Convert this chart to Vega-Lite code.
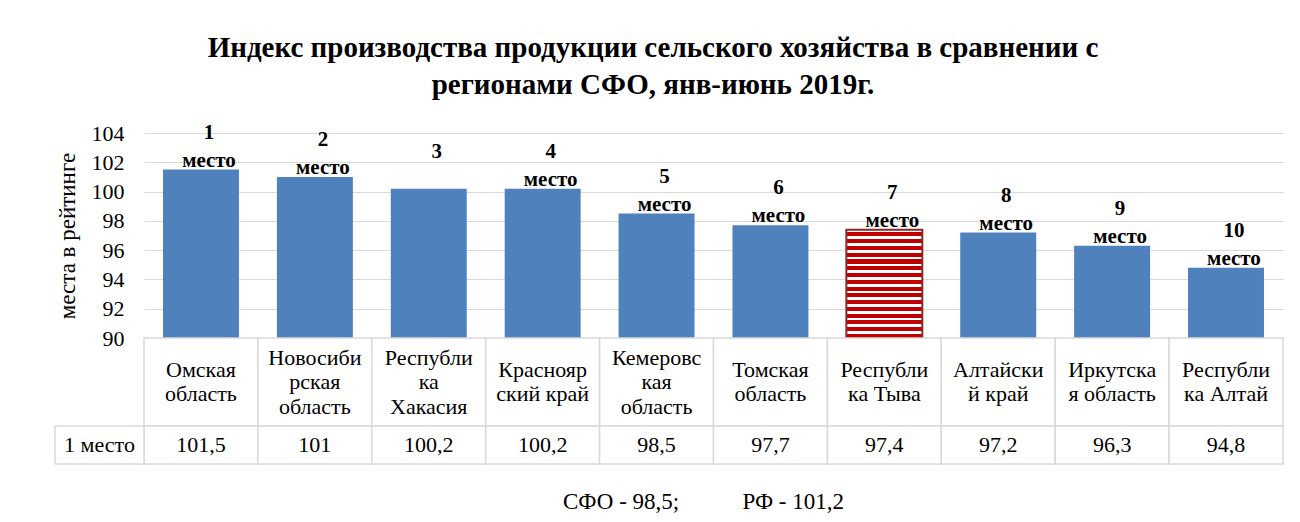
{
  "$schema": "https://vega.github.io/schema/vega-lite/v6.json",
  "background": "white",
  "padding": {"left": 54, "top": 33, "right": 17, "bottom": 6},
  "config": {
    "font": "Liberation Serif",
    "view": {"stroke": null},
    "locale": {"number": {"decimal": ",", "thousands": " ", "grouping": [3], "currency": ["", " ₽"]}}
  },
  "title": {
    "text": ["Индекс производства продукции сельского хозяйства в сравнении с", "регионами СФО, янв-июнь 2019г."],
    "font": "Liberation Serif",
    "fontSize": 29,
    "fontWeight": "bold",
    "color": "black",
    "lineHeight": 37,
    "anchor": "middle",
    "offset": 22,
    "dx": -16
  },
  "datasets": {
    "regions": [
      {"region": "Омская область", "label": "Омская\nобласть", "value": 101.5, "place": "1\nместо"},
      {"region": "Новосибирская область", "label": "Новосиби\nрская\nобласть", "value": 101, "place": "2\nместо"},
      {"region": "Республика Хакасия", "label": "Республи\nка\nХакасия", "value": 100.2, "place": "3\n "},
      {"region": "Красноярский край", "label": "Краснояр\nский край", "value": 100.2, "place": "4\nместо"},
      {"region": "Кемеровская область", "label": "Кемеровс\nкая\nобласть", "value": 98.5, "place": "5\nместо"},
      {"region": "Томская область", "label": "Томская\nобласть", "value": 97.7, "place": "6\nместо"},
      {"region": "Республика Тыва", "label": "Республи\nка Тыва", "value": 97.4, "place": "7\nместо"},
      {"region": "Алтайский край", "label": "Алтайски\nй край", "value": 97.2, "place": "8\nместо"},
      {"region": "Иркутская область", "label": "Иркутска\nя область", "value": 96.3, "place": "9\nместо"},
      {"region": "Республика Алтай", "label": "Республи\nка Алтай", "value": 94.8, "place": "10\nместо"}
    ]
  },
  "bounds": "flush",
  "spacing": 0,
  "vconcat": [
    {
      "width": 1139,
      "height": 205,
      "data": {"name": "regions"},
      "encoding": {
        "x": {"field": "region", "type": "nominal", "sort": null, "axis": null, "scale": {"paddingInner": 0.333, "paddingOuter": 0.167}},
        "y": {
          "field": "value",
          "type": "quantitative",
          "stack": null,
          "scale": {"domain": [90, 104], "nice": false, "zero": false},
          "axis": {
            "values": [90, 92, 94, 96, 98, 100, 102, 104],
            "title": "места в рейтинге",
            "titleFont": "Liberation Serif",
            "titleFontSize": 23,
            "titleFontWeight": "normal",
            "titleColor": "black",
            "titlePadding": 12,
            "labelFont": "Liberation Serif",
            "labelFontSize": 22,
            "labelColor": "black",
            "labelPadding": 20,
            "ticks": false,
            "domain": false,
            "grid": true,
            "gridColor": "#d9d9d9",
            "gridWidth": 1
          }
        }
      },
      "layer": [
        {
          "mark": {"type": "bar"},
          "encoding": {
            "y2": {"datum": 90},
            "fill": {
              "condition": {
                "test": "datum.region === 'Республика Тыва'",
                "value": {
                  "gradient": "linear", "x1": 0, "y1": 0, "x2": 0, "y2": 1,
                  "stops": [
                    {"offset": 0, "color": "#ffffff"}, {"offset": 0.025, "color": "#ffffff"}, {"offset": 0.025, "color": "#C00000"}, {"offset": 0.0625, "color": "#C00000"},
                    {"offset": 0.0625, "color": "#ffffff"}, {"offset": 0.0875, "color": "#ffffff"}, {"offset": 0.0875, "color": "#C00000"}, {"offset": 0.125, "color": "#C00000"},
                    {"offset": 0.125, "color": "#ffffff"}, {"offset": 0.15, "color": "#ffffff"}, {"offset": 0.15, "color": "#C00000"}, {"offset": 0.1875, "color": "#C00000"},
                    {"offset": 0.1875, "color": "#ffffff"}, {"offset": 0.2125, "color": "#ffffff"}, {"offset": 0.2125, "color": "#C00000"}, {"offset": 0.25, "color": "#C00000"},
                    {"offset": 0.25, "color": "#ffffff"}, {"offset": 0.275, "color": "#ffffff"}, {"offset": 0.275, "color": "#C00000"}, {"offset": 0.3125, "color": "#C00000"},
                    {"offset": 0.3125, "color": "#ffffff"}, {"offset": 0.3375, "color": "#ffffff"}, {"offset": 0.3375, "color": "#C00000"}, {"offset": 0.375, "color": "#C00000"},
                    {"offset": 0.375, "color": "#ffffff"}, {"offset": 0.4, "color": "#ffffff"}, {"offset": 0.4, "color": "#C00000"}, {"offset": 0.4375, "color": "#C00000"},
                    {"offset": 0.4375, "color": "#ffffff"}, {"offset": 0.4625, "color": "#ffffff"}, {"offset": 0.4625, "color": "#C00000"}, {"offset": 0.5, "color": "#C00000"},
                    {"offset": 0.5, "color": "#ffffff"}, {"offset": 0.525, "color": "#ffffff"}, {"offset": 0.525, "color": "#C00000"}, {"offset": 0.5625, "color": "#C00000"},
                    {"offset": 0.5625, "color": "#ffffff"}, {"offset": 0.5875, "color": "#ffffff"}, {"offset": 0.5875, "color": "#C00000"}, {"offset": 0.625, "color": "#C00000"},
                    {"offset": 0.625, "color": "#ffffff"}, {"offset": 0.65, "color": "#ffffff"}, {"offset": 0.65, "color": "#C00000"}, {"offset": 0.6875, "color": "#C00000"},
                    {"offset": 0.6875, "color": "#ffffff"}, {"offset": 0.7125, "color": "#ffffff"}, {"offset": 0.7125, "color": "#C00000"}, {"offset": 0.75, "color": "#C00000"},
                    {"offset": 0.75, "color": "#ffffff"}, {"offset": 0.775, "color": "#ffffff"}, {"offset": 0.775, "color": "#C00000"}, {"offset": 0.8125, "color": "#C00000"},
                    {"offset": 0.8125, "color": "#ffffff"}, {"offset": 0.8375, "color": "#ffffff"}, {"offset": 0.8375, "color": "#C00000"}, {"offset": 0.875, "color": "#C00000"},
                    {"offset": 0.875, "color": "#ffffff"}, {"offset": 0.9, "color": "#ffffff"}, {"offset": 0.9, "color": "#C00000"}, {"offset": 0.9375, "color": "#C00000"},
                    {"offset": 0.9375, "color": "#ffffff"}, {"offset": 0.9625, "color": "#ffffff"}, {"offset": 0.9625, "color": "#C00000"}, {"offset": 1, "color": "#C00000"}
                  ]
                }
              },
              "value": "#4F81BD"
            },
            "stroke": {"condition": {"test": "datum.region === 'Республика Тыва'", "value": "#8B2828"}, "value": "#4F81BD"},
            "strokeWidth": {"condition": {"test": "datum.region === 'Республика Тыва'", "value": 2}, "value": 0}
          }
        },
        {
          "mark": {"type": "text", "lineBreak": "\n", "baseline": "bottom", "fontWeight": "bold", "fontSize": 21, "lineHeight": 28, "dx": 8, "dy": -27, "color": "black", "font": "Liberation Serif"},
          "encoding": {"text": {"field": "place"}}
        }
      ]
    },
    {
      "width": 1139,
      "height": 88,
      "data": {"name": "regions"},
      "encoding": {
        "x": {"field": "region", "type": "nominal", "sort": null, "axis": null, "scale": {"paddingInner": 0, "paddingOuter": 0}}
      },
      "layer": [
        {"mark": {"type": "rect", "fill": "white", "stroke": "#d9d9d9", "strokeWidth": 1.5}},
        {
          "transform": [{"filter": "split(datum.label, '\\n').length === 2"}],
          "mark": {"type": "text", "lineBreak": "\n", "fontSize": 22, "lineHeight": 24.5, "baseline": "middle", "dy": -12.25, "color": "black", "font": "Liberation Serif"},
          "encoding": {"text": {"field": "label"}}
        },
        {
          "transform": [{"filter": "split(datum.label, '\\n').length === 3"}],
          "mark": {"type": "text", "lineBreak": "\n", "fontSize": 22, "lineHeight": 24.5, "baseline": "middle", "dy": -24.5, "color": "black", "font": "Liberation Serif"},
          "encoding": {"text": {"field": "label"}}
        }
      ]
    },
    {
      "width": 1139,
      "height": 38,
      "title": {
        "text": "СФО - 98,5;\u00a0\u00a0\u00a0\u00a0\u00a0\u00a0\u00a0\u00a0\u00a0\u00a0\u00a0РФ - 101,2",
        "orient": "bottom",
        "anchor": "middle",
        "frame": "group",
        "font": "Liberation Serif",
        "fontSize": 23,
        "fontWeight": "normal",
        "color": "black",
        "offset": 26,
        "dx": -10
      },
      "layer": [
        {
          "data": {"name": "regions"},
          "encoding": {
            "x": {"field": "region", "type": "nominal", "sort": null, "axis": null, "scale": {"paddingInner": 0, "paddingOuter": 0}}
          },
          "layer": [
            {"mark": {"type": "rect", "fill": "white", "stroke": "#d9d9d9", "strokeWidth": 1.5}},
            {
              "mark": {"type": "text", "fontSize": 22, "baseline": "middle", "color": "black", "font": "Liberation Serif"},
              "encoding": {"text": {"field": "value", "type": "quantitative", "format": ".4~g"}}
            }
          ]
        },
        {
          "data": {"values": [{"row": "1 место"}]},
          "encoding": {
            "x": {"field": "row", "type": "nominal", "axis": null, "scale": {"range": [-89, 0], "paddingInner": 0, "paddingOuter": 0}}
          },
          "layer": [
            {"mark": {"type": "rect", "fill": "white", "stroke": "#d9d9d9", "strokeWidth": 1.5}},
            {
              "mark": {"type": "text", "fontSize": 22, "baseline": "middle", "color": "black", "font": "Liberation Serif"},
              "encoding": {"text": {"field": "row"}}
            }
          ]
        }
      ],
      "resolve": {"scale": {"x": "independent"}}
    }
  ]
}
